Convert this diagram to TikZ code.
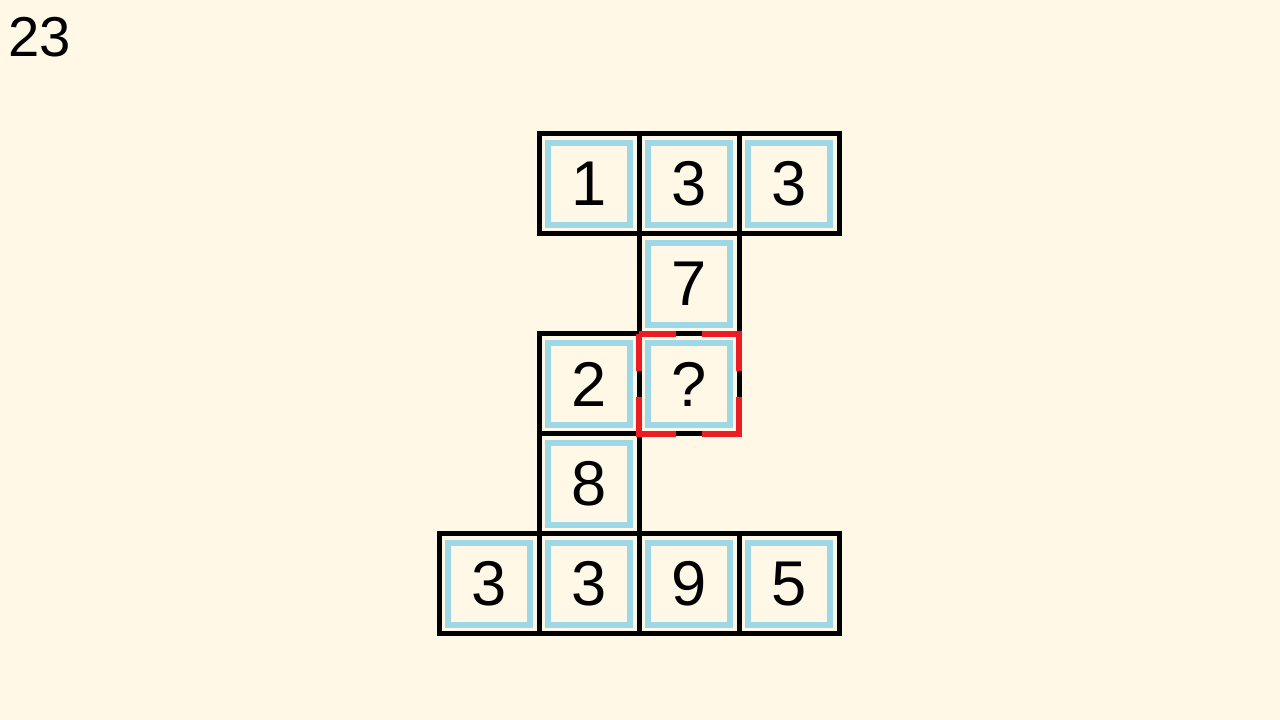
\documentclass[tikz,border=0pt]{standalone}
\usepackage{fontspec}
\setmainfont{Liberation Sans}
\definecolor{cream}{RGB}{255,248,231}
\definecolor{cellblue}{RGB}{158,216,230}
\definecolor{markred}{RGB}{237,28,36}
\tikzset{
    cellbox/.style={draw=black, line width=0.05cm, minimum size=1cm, inner sep=0pt, outer sep=0pt,
        font=\fontsize{18pt}{18pt}\selectfont,
        path picture={\draw[cellblue, line width=0.065cm]
            ([shift={(0.09,0.09)}]path picture bounding box.south west) rectangle
            ([shift={(-0.09,-0.09)}]path picture bounding box.north east);}},
    markbox/.style={draw=markred, line width=0.065cm, dash pattern=on 0.74cm off 0.26cm, dash phase=0.37cm}
}
\begin{document}
\begin{tikzpicture}
    \useasboundingbox[fill=cream] (0,0) rectangle (12.8,7.2);
    \node[anchor=base west, inner sep=0pt, font=\fontsize{16pt}{16pt}\selectfont] (title) at (0.08,6.63) {23};
    % cells: column / row / number
    \foreach \c/\r/\n in {1/0/1, 2/0/3, 3/0/3, 2/1/7, 1/2/2, 2/2/?, 1/3/8, 0/4/3, 1/4/3, 2/4/9, 3/4/5} {
        \node[cellbox] (cell-\c-\r) at (4.89+\c, 5.36-\r) {\n};
    }
    \draw[markbox] (cell-2-2.north west) -- (cell-2-2.north east) -- (cell-2-2.south east) -- (cell-2-2.south west) -- cycle;
\end{tikzpicture}
\end{document}
